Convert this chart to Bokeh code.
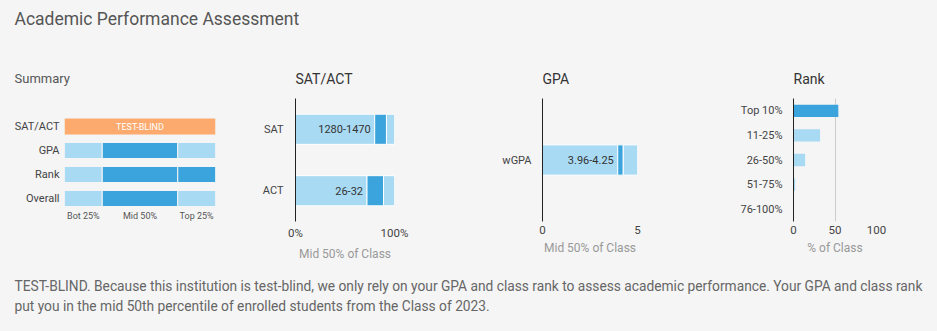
from bokeh.plotting import figure
from bokeh.layouts import column, row
from bokeh.models import Label, FixedTicker, FactorRange, Range1d
from bokeh.embed import file_html
from bokeh.resources import INLINE
from bokeh.core.properties import value

BG = "#f5f5f5"
LIGHT = "#a9daf3"
DARK = "#3ba4dc"
ORANGE = "#fcaa6d"
FONT = "Roboto"

# ---------------- data ----------------
page_title = "Academic Performance Assessment"

summary_rows = ["SAT/ACT", "GPA", "Rank", "Overall"]
summary_bands = ["Bot 25%", "Mid 50%", "Top 25%"]
band_edges = [0, 25, 75, 100]
gpa_highlight = [False, True, False]
rank_highlight = [False, True, True]
overall_highlight = [False, True, False]
test_policy = "TEST-BLIND"

test_names = ["SAT", "ACT"]
test_low = [1280, 26]
test_high = [1470, 32]
test_max = [1600, 36]

gpa_names = ["wGPA"]
gpa_low = [3.96]
gpa_high = [4.25]
gpa_max = 5

rank_cats = ["Top 10%", "11-25%", "26-50%", "51-75%", "76-100%"]
rank_pct = [54, 32, 14, 2, 0]
rank_student = "Top 10%"

footer_lines = [
    "TEST-BLIND. Because this institution is test-blind, we only rely on your GPA and class rank to assess academic performance. Your GPA and class rank",
    "put you in the mid 50th percentile of enrolled students from the Class of 2023.",
]

TOP, FH, BOTTOM = 48, 123, 41


def panel(x_range, y_range, left, fw, right, title, offset=0, tsize="14px", tcolor="#333",
          standoff=23):
    p = figure(x_range=x_range, y_range=y_range,
               width=left + fw + right, height=TOP + FH + BOTTOM,
               frame_width=fw, frame_height=FH,
               min_border_left=left, min_border_right=right,
               min_border_top=TOP, min_border_bottom=BOTTOM,
               output_backend="svg", toolbar_location=None, title=title,
               background_fill_color=BG, border_fill_color=BG,
               outline_line_color=None)
    p.title.align = "left"
    p.title.offset = offset
    p.title.text_font = FONT
    p.title.text_font_size = tsize
    p.title.text_font_style = "normal"
    p.title.text_color = tcolor
    p.title.standoff = standoff
    p.xgrid.visible = False
    p.ygrid.visible = False
    for ax in (p.xaxis[0], p.yaxis[0]):
        ax.major_tick_in = 0
        ax.major_tick_out = 0
        ax.minor_tick_in = 0
        ax.minor_tick_out = 0
        ax.major_label_text_font = FONT
        ax.axis_label_text_font = FONT
        ax.axis_label_text_font_style = "normal"
    return p


def style_value_axes(p, ticks, labels, axis_title, ylabel_standoff):
    xa = p.xaxis[0]
    xa.ticker = FixedTicker(ticks=ticks)
    xa.major_label_overrides = dict(zip(ticks, labels))
    xa.axis_line_color = None
    xa.major_label_text_font_size = "11.5px"
    xa.major_label_text_color = "#444"
    xa.major_label_standoff = 4
    xa.axis_label = axis_title
    xa.axis_label_text_font_size = "12px"
    xa.axis_label_text_color = "#999"
    xa.axis_label_standoff = 4
    ya = p.yaxis[0]
    ya.axis_line_color = "#222"
    ya.major_label_text_font_size = "11px"
    ya.major_label_text_color = "#444"
    ya.major_label_standoff = ylabel_standoff
    p.xgrid.visible = True
    p.xgrid.ticker = FixedTicker(ticks=ticks)
    p.xgrid.grid_line_color = "#cccccc"


# ---------------- Summary ----------------
n_rows = len(summary_rows)
row_pos = {name: n_rows - 1 - i for i, name in enumerate(summary_rows)}
ps = panel(Range1d(0, 100), Range1d(-0.958, n_rows - 1 + 1.167), 64, 151, 35,
           "Summary", offset=-50, tsize="13px", tcolor="#555", standoff=26)
seg_y, seg_l, seg_r, seg_c = [], [], [], []
for name, hl in (("GPA", gpa_highlight), ("Rank", rank_highlight), ("Overall", overall_highlight)):
    for i in range(len(summary_bands)):
        seg_y.append(row_pos[name])
        seg_l.append(band_edges[i])
        seg_r.append(band_edges[i + 1])
        seg_c.append(DARK if hl[i] else LIGHT)
ps.hbar(y=seg_y, left=seg_l, right=seg_r, height=0.667, fill_color=seg_c,
        line_color=BG, line_width=1)
ps.hbar(y=[row_pos["SAT/ACT"]], left=[band_edges[0]], right=[band_edges[-1]], height=0.667,
        fill_color=ORANGE, line_color=None)
ps.text(x=[(band_edges[0] + band_edges[-1]) / 2], y=[row_pos["SAT/ACT"]], text=[test_policy],
        text_font=value(FONT), text_font_size="9px", text_color="white",
        text_align="center", text_baseline="middle")
mids = [(band_edges[i] + band_edges[i + 1]) / 2 for i in range(len(summary_bands))]
ps.text(x=mids, y=[-0.5] * len(mids), text=summary_bands, y_offset=5,
        text_font=value(FONT), text_font_size="9px", text_color="#555",
        text_align="center", text_baseline="middle")
ps.xaxis[0].visible = False
ya = ps.yaxis[0]
ya.ticker = FixedTicker(ticks=list(row_pos.values()))
ya.major_label_overrides = {v: k for k, v in row_pos.items()}
ya.axis_line_color = None
ya.major_label_text_font_size = "11px"
ya.major_label_text_color = "#444"
ya.major_label_standoff = 5

# ---------------- SAT/ACT ----------------
pt = panel(Range1d(0, 100), FactorRange(*reversed(test_names)), 45, 99, 96, "SAT/ACT")
ty, tl, tr, tc = [], [], [], []
lab_x, lab_y, lab_t = [], [], []
for n, lo, hi, mx in zip(test_names, test_low, test_high, test_max):
    a, b = lo / mx * 100, hi / mx * 100
    for l, r, c in ((0, a, LIGHT), (a, b, DARK), (b, 100, LIGHT)):
        ty.append(n); tl.append(l); tr.append(r); tc.append(c)
    lab_x.append(a); lab_y.append(n); lab_t.append(f"{lo}-{hi}")
pt.hbar(y=ty, left=tl, right=tr, height=0.49, fill_color=tc, line_color="white", line_width=1)
pt.text(x=lab_x, y=lab_y, text=lab_t, x_offset=-4, text_font=value(FONT),
        text_font_size="11px", text_color="#333", text_align="right", text_baseline="middle")
style_value_axes(pt, [0, 100], ["0%", "100%"], "Mid 50% of Class", 12)

# ---------------- GPA ----------------
pg = panel(Range1d(0, gpa_max), FactorRange(*gpa_names), 52, 95, 83, "GPA")
gy, gl, gr, gc = [], [], [], []
for n, lo, hi in zip(gpa_names, gpa_low, gpa_high):
    for l, r, c in ((0, lo, LIGHT), (lo, hi, DARK), (hi, gpa_max, LIGHT)):
        gy.append(n); gl.append(l); gr.append(r); gc.append(c)
pg.hbar(y=gy, left=gl, right=gr, height=0.246, fill_color=gc, line_color="white", line_width=1)
pg.text(x=gpa_low, y=gpa_names, text=[f"{lo:.2f}-{hi:.2f}" for lo, hi in zip(gpa_low, gpa_high)],
        x_offset=-4, text_font=value(FONT), text_font_size="11px", text_color="#333",
        text_align="right", text_baseline="middle")
style_value_axes(pg, [0, gpa_max], ["0", str(gpa_max)], "Mid 50% of Class", 11)

# ---------------- Rank ----------------
pr = panel(Range1d(0, 100), FactorRange(*reversed(rank_cats)), 73, 83, 61, "Rank")
pr.hbar(y=rank_cats, left=0, right=rank_pct, height=0.5,
        fill_color=[DARK if c == rank_student else LIGHT for c in rank_cats], line_color=None)
style_value_axes(pr, [0, 50, 100], ["0", "50", "100"], "% of Class", 11)


# ---------------- header & footer ----------------
def text_strip(h):
    p = figure(width=937, height=h, x_range=Range1d(0, 1), y_range=Range1d(0, 1),
               x_axis_location=None, y_axis_location=None, output_backend="svg",
               toolbar_location=None, title=None, min_border=0,
               background_fill_color=BG, border_fill_color=BG, outline_line_color=None)
    p.xgrid.visible = False
    p.ygrid.visible = False
    return p


hdr = text_strip(50)
hdr.add_layout(Label(x=14, y=32, x_units="screen", y_units="screen", text=page_title,
                     text_font=FONT, text_font_size="17.5px", text_color="#555",
                     text_baseline="middle"))

ftr = text_strip(69)
for i, line in enumerate(footer_lines):
    ftr.add_layout(Label(x=14, y=47 - 20 * i, x_units="screen", y_units="screen", text=line,
                         text_font=FONT, text_font_size="13.75px", text_color="#666",
                         text_baseline="middle"))

layout = column(hdr, row(ps, pt, pg, pr, styles={"background-color": BG}), ftr,
                styles={"background-color": BG})
open("out.html", "w").write(file_html(layout, INLINE))
